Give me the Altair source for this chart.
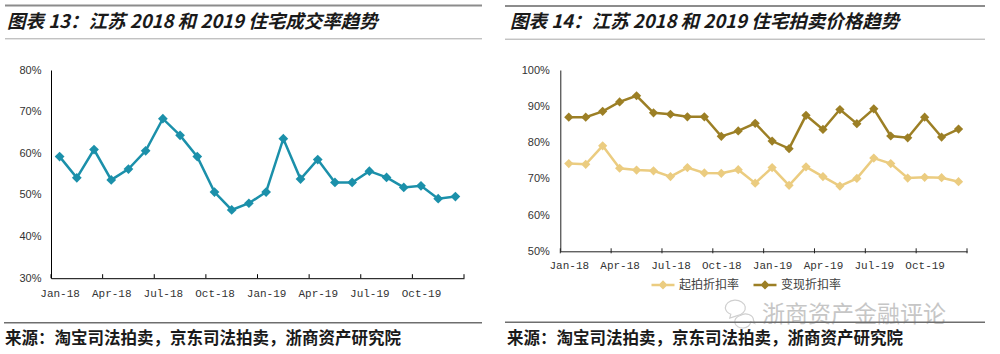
import json
import altair as alt
import pandas as pd

# ---------------- data ----------------
months = ["Jan-18", "Feb-18", "Mar-18", "Apr-18", "May-18", "Jun-18",
          "Jul-18", "Aug-18", "Sep-18", "Oct-18", "Nov-18", "Dec-18",
          "Jan-19", "Feb-19", "Mar-19", "Apr-19", "May-19", "Jun-19",
          "Jul-19", "Aug-19", "Sep-19", "Oct-19", "Nov-19", "Dec-19"]
tick_labels = ["Jan-18", "Apr-18", "Jul-18", "Oct-18",
               "Jan-19", "Apr-19", "Jul-19", "Oct-19"]

deal_rate = [59.2, 54.1, 60.9, 53.6, 56.2, 60.6, 68.3, 64.3, 59.2, 50.7, 46.4, 48.0,
             50.7, 63.5, 53.8, 58.5, 53.0, 53.0, 55.7, 54.2, 51.8, 52.2, 49.1, 49.6]
start_disc = [74.2, 74.0, 79.1, 72.9, 72.4, 72.2, 70.6, 73.1, 71.6, 71.5, 72.5, 68.8,
              73.1, 68.2, 73.3, 70.6, 68.0, 70.1, 75.7, 74.2, 70.2, 70.4, 70.3, 69.2]
real_disc = [87.0, 87.0, 88.6, 91.2, 92.9, 88.2, 87.8, 87.1, 87.1, 81.7, 83.2, 85.3,
             80.4, 78.3, 87.5, 83.6, 89.1, 85.2, 89.3, 81.8, 81.3, 87.0, 81.5, 83.7]

series_names = ["起拍折扣率", "变现折扣率"]
title_left = "图表 13：江苏 2018 和 2019 住宅成交率趋势"
title_right = "图表 14：江苏 2018 和 2019 住宅拍卖价格趋势"
source_text = "来源：淘宝司法拍卖，京东司法拍卖，浙商资产研究院"
watermark = "浙商资产金融评论"

# ---------------- styles ----------------
TEAL = "#1b90aa"
LIGHT = "#ebcc80"
DARK = "#9c7f25"
CJK = "Noto Sans CJK SC"
MONO = "Liberation Mono"
SANS = "Liberation Sans Narrow, Liberation Sans"

W1, H1 = 413, 208.2
W2, H2 = 406.7, 181.3
SPACING = 96.3

x_pos = [i + 0.5 for i in range(len(months))]
df1 = pd.DataFrame({"x": x_pos, "month": months, "rate": deal_rate})
df2 = pd.DataFrame({
    "x": x_pos * 2,
    "month": months * 2,
    "rate": start_disc + real_disc,
    "series": [series_names[0]] * 24 + [series_names[1]] * 24,
})

tick_vals = list(range(0, 25, 3))
label_expr = f"datum.value >= 24 ? '' : {json.dumps(tick_labels)}[floor(datum.value / 3)]"


def x_enc(width, pad, dom_color):
    return alt.X(
        "x:Q",
        scale=alt.Scale(domain=[0, 24], nice=False, zero=False),
        axis=alt.Axis(values=tick_vals, labelExpr=label_expr, labelOffset=width / 48,
                      ticks=False, grid=False, domainColor=dom_color, domainWidth=1,
                      labelFont=MONO, labelFontSize=11, labelColor="#333333",
                      labelPadding=pad, labelFlush=False, labelOverlap=False,
                      labelAngle=0, title=None, zindex=1),
        title=None,
    )


def y_enc(lo, hi, pad, dom_color):
    return alt.Y(
        "rate:Q",
        scale=alt.Scale(domain=[lo, hi], nice=False, zero=False),
        axis=alt.Axis(values=list(range(lo, hi + 1, 10)), labelExpr="datum.value + '%'",
                      ticks=False, grid=False, domainColor=dom_color, domainWidth=1,
                      labelFont=SANS, labelFontSize=11, labelColor="#333333",
                      labelPadding=pad, labelFlush=False, title=None, zindex=1),
        title=None,
    )


def one():
    return alt.Data(values=[{}])


def hrule(x1, x2, y, color, width):
    return alt.Chart(one()).mark_rule(color=color, strokeWidth=width).encode(
        x=alt.value(x1), x2=alt.value(x2), y=alt.value(y))


def text(s, x, y, size, color="#1a1a1a", weight="normal", style="normal", font=CJK):
    return alt.Chart(alt.Data(values=[{"t": s}])).mark_text(
        align="left", baseline="middle", font=font, fontSize=size,
        fontWeight=weight, fontStyle=style, color=color).encode(
        x=alt.value(x), y=alt.value(y), text="t:N")


def glyph(path, x, y, size, color, width=1.2):
    return alt.Chart(one()).mark_point(shape=path, filled=False, size=size,
                                       color=color, strokeWidth=width, opacity=1).encode(
        x=alt.value(x), y=alt.value(y))


def tick_layer(width, y1, y2, color, dom_color):
    return alt.Chart(alt.Data(values=[{"x": v} for v in tick_vals])).mark_rule(
        color=color, strokeWidth=1).encode(
        x=x_enc(width, 9, dom_color), y=alt.value(y1), y2=alt.value(y2))


# ---------------- left panel (origin at 51, 69.5) ----------------
bg = alt.Chart(one()).mark_rect(color="white").encode(
    x=alt.value(-51), x2=alt.value(949), y=alt.value(-69.5), y2=alt.value(284.5))

left_line = alt.Chart(df1).mark_line(color=TEAL, strokeWidth=2.5).encode(
    x=x_enc(W1, 9, "#000000"), y=y_enc(30, 80, 10, "#000000"))
left_pts = alt.Chart(df1).mark_point(shape="diamond", filled=True, size=95,
                                      color=TEAL, opacity=1).encode(
    x=x_enc(W1, 9, "#000000"), y=y_enc(30, 80, 10, "#000000"))

left = alt.layer(
    bg,
    hrule(-46, 431, -64.5, "#8c8c8c", 2),
    text(title_left, -44, -48, 18.5, weight="bold", style="italic"),
    hrule(-46, 431, -31.2, "#a8a8a8", 1),
    left_line, left_pts,
    tick_layer(W1, H1 - 4, H1, "#000000", "#000000"),
    hrule(-47, 431, 252.8, "#6e6e6e", 1.5),
    text(source_text, -46, 268.5, 16.5, weight="bold"),
).properties(width=W1, height=H1)

# ---------------- right panel (origin at 560.3, 69) ----------------
legend_path = ("M-1.5,-0.16H1.5V0.16H-1.5Z "
               "M0,-0.6L0.6,0L0,0.6L-0.6,0Z")
color_scale = alt.Scale(domain=series_names, range=[LIGHT, DARK])

# watermark icon (two speech bubbles)
bubble_big = "M-1,0A1,0.78 0 1,1 0.2,0.76L-0.55,1L-0.45,0.62A1,0.78 0 0,1 -1,0Z"
bubble_small = "M-1,0A1,0.8 0 1,0 0.3,0.78L0.8,1L0.65,0.6A1,0.8 0 0,0 -1,0Z"


def series_line(name, col):
    return alt.Chart(df2).transform_filter(
        alt.datum.series == name).mark_line(strokeWidth=2.5, color=col).encode(
        x=x_enc(W2, 8, "#222222"), y=y_enc(50, 100, 11, "#222222"))


right_pts = alt.Chart(df2).mark_point(shape="diamond", filled=True, size=85,
                                       opacity=1).encode(
    x=x_enc(W2, 8, "#222222"), y=y_enc(50, 100, 11, "#222222"),
    color=alt.Color("series:N", scale=color_scale,
                    legend=alt.Legend(orient="none", legendX=94.7, legendY=206.9,
                                      direction="horizontal", title=None,
                                      symbolType=legend_path, symbolSize=235,
                                      symbolStrokeWidth=0, symbolOpacity=1,
                                      labelFont=CJK, labelFontSize=12,
                                      labelColor="#404040", labelOffset=8,
                                      columnPadding=13, padding=0, zindex=2)))

right = alt.layer(
    hrule(-55.3, 424.7, -64, "#8c8c8c", 2),
    text(title_right, -50.3, -48, 18.5, weight="bold", style="italic"),
    hrule(-55.3, 424.7, -30.8, "#a8a8a8", 1),
    series_line(series_names[0], LIGHT),
    series_line(series_names[1], DARK),
    right_pts,
    tick_layer(W2, H2 - 3, H2 + 2, "#222222", "#222222"),
    glyph(bubble_big, 175, 238, 400, "#cfcfcf"),
    glyph(bubble_small, 188, 245.5, 256, "#cfcfcf"),
    text(watermark, 201.7, 245, 23, color="#c6c6c6"),
    hrule(-55.3, 424.7, 252.3, "#6e6e6e", 1.5),
    text(source_text, -53.3, 269, 16.5, weight="bold"),
).properties(width=W2, height=H2)

chart = alt.hconcat(left, right, spacing=SPACING, bounds="flush").resolve_scale(
    color="independent"
).resolve_legend(color="independent").properties(
    padding=0, background="white"
).configure_view(stroke=None)

chart.save("out.html", embed_options={"renderer": "svg", "actions": False})
